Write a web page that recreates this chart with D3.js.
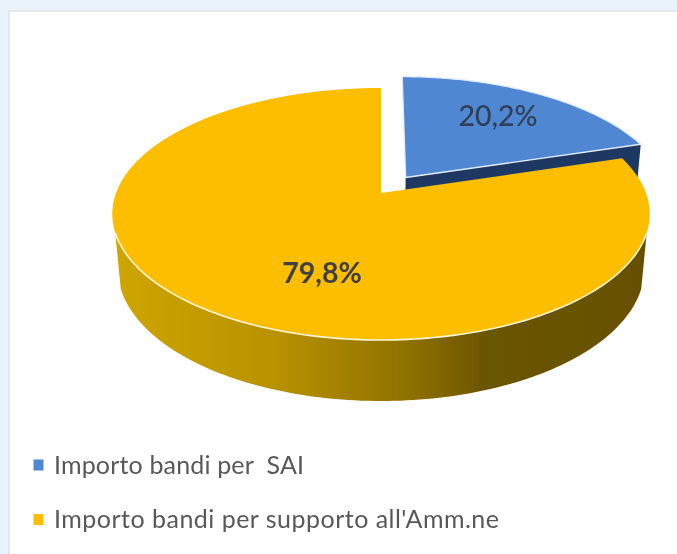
<!DOCTYPE html>
<html>
<head>
<meta charset="utf-8">
<script src="https://cdn.jsdelivr.net/npm/d3@7"></script>
<style>
html, body { margin: 0; padding: 0; background: #e9f3fc; }
svg { display: block; }
text { font-family: Lato, "Open Sans", sans-serif; }
</style>
</head>
<body>
<svg id="chart" width="677" height="554"></svg>
<script>
// data
var categories = ["Importo bandi per  SAI", "Importo bandi per supporto all'Amm.ne"];
var values = [20.2, 79.8];
var valueLabels = ["20,2%", "79,8%"];
var topColors = ["#5087d2", "#fdbe00"];
var sideColors = ["#1f3864", "#8a6c00"];

// 3d disc settings, picked by eye
var cx = 381, cy = 193, rx = 265, ry = 122.5;
var persp = 1 / 6, shrink = 0.02, depth = 55, explode = 0.16;

// disc coords (u right, v towards viewer, z 0 top / 1 bottom) to pixels
function project(u, v, z) {
    var s = 1 / (1 - persp * v + shrink * z);
    return [cx + u * rx * s, cy + (v * ry + z * depth) * s];
}

var svg = d3.select("#chart");

svg.append("filter").attr("id", "soft")
    .append("feGaussianBlur").attr("stdDeviation", 0.45);

var defs = svg.append("defs");
var sideGrad = defs.append("linearGradient")
    .attr("id", "sideGrad")
    .attr("gradientUnits", "userSpaceOnUse")
    .attr("x1", 113).attr("x2", 650).attr("y1", 0).attr("y2", 0);
[[0, "#cfa500"], [0.3, "#b89200"], [0.55, "#8f7100"], [0.7, "#6a5400"], [1, "#665000"]].forEach(function(d) {
    sideGrad.append("stop").attr("offset", d[0]).attr("stop-color", d[1]);
});

var root = svg.append("g").attr("filter", "url(#soft)");

// white panel
root.append("rect").attr("x", 9).attr("y", 11).attr("width", 680).attr("height", 560)
    .attr("fill", "#fff").attr("stroke", "#dfe3e6").attr("stroke-width", 1.5);

var pie = d3.pie().sort(null)(values);
var line = d3.line();

// points along a rim between two angles
function rim(a0, a1, z, off) {
    var n = 120;
    return d3.range(n + 1).map(function(i) {
        var a = a0 + (a1 - a0) * i / n;
        return project(Math.sin(a) + off[0], -Math.cos(a) + off[1], z);
    });
}

function offset(d, amount) {
    var mid = (d.startAngle + d.endAngle) / 2;
    return [Math.sin(mid) * amount, -Math.cos(mid) * amount];
}

var blue = pie[0], yellow = pie[1];
var blueOff = offset(blue, explode);
var noOff = [0, 0];

// blue slice: cut face and outer side
var blueEnd = [Math.sin(blue.endAngle) + blueOff[0], -Math.cos(blue.endAngle) + blueOff[1]];
root.append("path")
    .attr("d", line([
        project(blueOff[0], blueOff[1], 0),
        project(blueEnd[0], blueEnd[1], 0),
        project(blueEnd[0], blueEnd[1], 1),
        project(blueOff[0], blueOff[1], 1)
    ]) + "Z")
    .attr("fill", sideColors[0]);

// yellow side, ends cut straight where the rim turns
var sideA0 = Math.PI * 0.6, sideA1 = Math.PI * 1.4;
root.append("path")
    .attr("d", line(rim(sideA0, sideA1, 0, noOff).concat(rim(sideA1, sideA0, 1, noOff))) + "Z")
    .attr("fill", "url(#sideGrad)");

// yellow top
root.append("path")
    .attr("d", line([project(0, 0, 0)].concat(rim(yellow.startAngle, yellow.endAngle, 0, noOff))) + "Z")
    .attr("fill", topColors[1]);

// light rim on the yellow front edge
root.append("path")
    .attr("d", line(rim(sideA0, sideA1, 0, noOff)))
    .attr("fill", "none").attr("stroke", "#fff6d8").attr("stroke-width", 1.6);

// blue top
root.append("path")
    .attr("d", line([project(blueOff[0], blueOff[1], 0)].concat(rim(blue.startAngle, blue.endAngle, 0, blueOff))) + "Z")
    .attr("fill", topColors[0])
    .attr("stroke", "#e4ecf7").attr("stroke-width", 1.4).attr("stroke-linejoin", "round");

// value labels
var labelPos = [[498, 116], [322, 273]];
root.selectAll("text.value").data(valueLabels).enter().append("text")
    .attr("class", "value")
    .attr("x", function(d, i) { return labelPos[i][0]; })
    .attr("y", function(d, i) { return labelPos[i][1]; })
    .attr("dy", "0.35em")
    .attr("text-anchor", "middle")
    .attr("font-size", 28.5)
    .attr("font-weight", function(d, i) { return i == 1 ? 700 : 500; })
    .attr("fill", function(d, i) { return i == 0 ? "#2f3f55" : "#404040"; })
    .text(function(d) { return d; });

// legend
var legendY = d3.scalePoint().domain(categories).range([465, 519.5]);
var legendWidths = [250, 445];
var legend = root.selectAll("g.legend").data(categories).enter().append("g")
    .attr("class", "legend")
    .attr("transform", function(d) { return "translate(0," + legendY(d) + ")"; });
legend.append("rect")
    .attr("x", 33.5).attr("y", -5.5).attr("width", 10).attr("height", 11)
    .attr("fill", function(d, i) { return topColors[i]; });
legend.append("text")
    .attr("x", 54).attr("dy", "0.35em")
    .attr("font-size", 25)
    .attr("fill", "#595959")
    .attr("textLength", function(d, i) { return legendWidths[i]; })
    .attr("lengthAdjust", "spacing")
    .style("white-space", "pre")
    .text(function(d) { return d; });
</script>
</body>
</html>
